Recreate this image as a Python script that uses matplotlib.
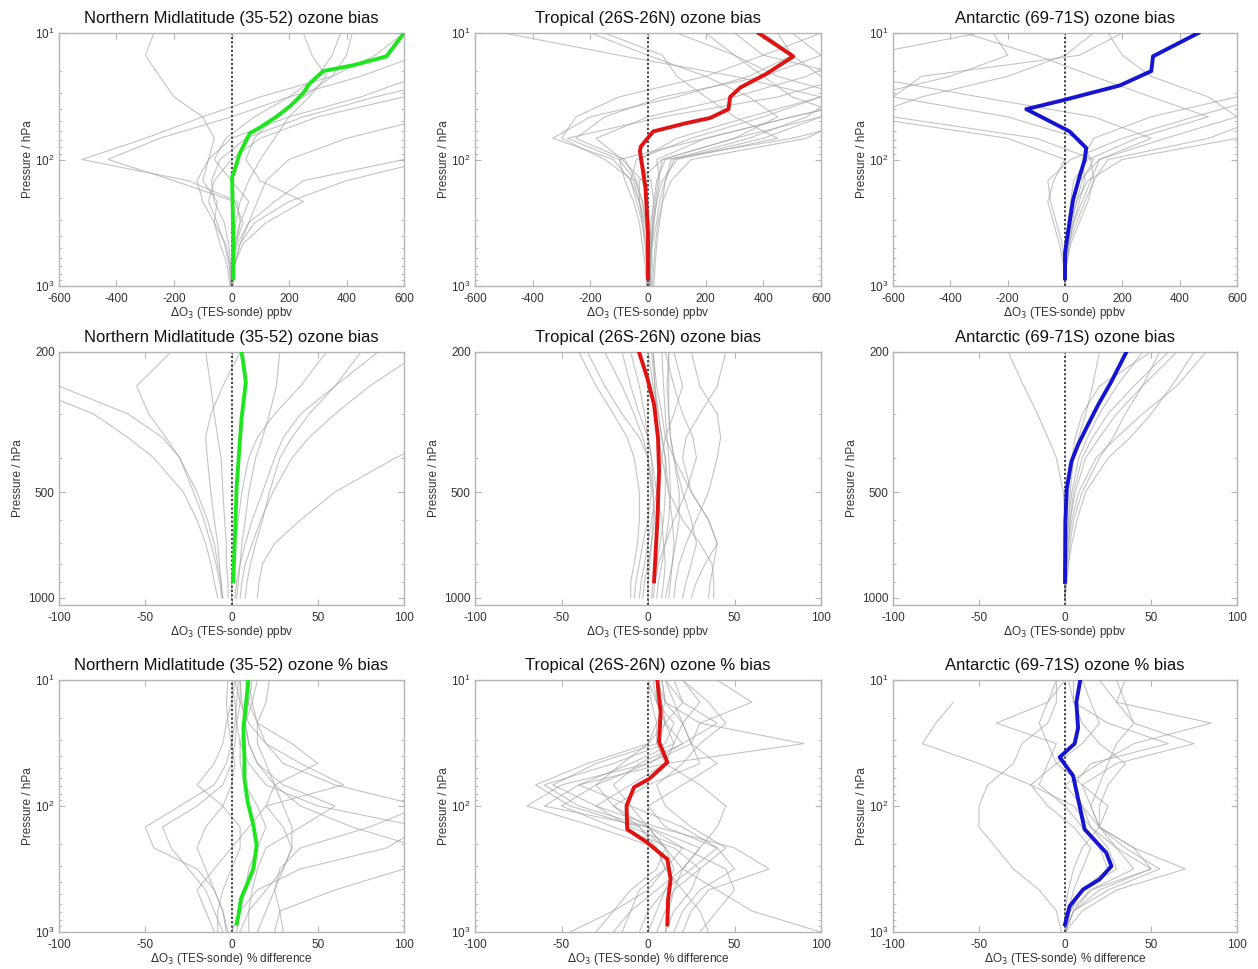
import numpy as np
import matplotlib
matplotlib.use("Agg")
import matplotlib.pyplot as plt
from matplotlib.ticker import FixedLocator, FixedFormatter, LogFormatterMathtext, NullFormatter

plt.rcParams['font.family'] = ['Liberation Sans', 'DejaVu Sans']
plt.rcParams['axes.unicode_minus'] = False

# ---------------- data ----------------
regions = ["Northern Midlatitude (35-52)", "Tropical (26S-26N)", "Antarctic (69-71S)"]
mean_colors = ["#1ee61e", "#e01212", "#1414d2"]

# Pressure levels (hPa) for the individual (grey) profiles
lev_full = [1000, 681, 464, 316, 215, 147, 100, 68, 46, 32, 22, 15, 10]
lev_trop = [1000, 900, 800, 700, 600, 500, 400, 350, 300, 250, 200]

# ---- row 1: ppbv bias, 1000-10 hPa ----
nh_ppb_mean_p = [870, 383, 136, 132, 89, 62, 56, 46, 38, 30, 25, 20, 18, 15.3, 10]
nh_ppb_mean_x = [6, 6, 2, 6, 29, 64, 98, 156, 203, 249, 272, 319, 423, 539, 600]
tr_ppb_mean_p = [870, 383, 164, 86, 79, 60, 51.5, 47, 40, 32, 27, 21, 15.3, 10]
tr_ppb_mean_x = [0, 0, -9, -28, -25, 18, 134, 215, 279, 285, 320, 411, 504, 383]
an_ppb_mean_p = [870, 550, 383, 209, 136, 100, 81, 60, 40, 34, 26, 20, 15.3, 10]
an_ppb_mean_x = [0, 0, 10, 28, 51, 69, 74, 16, -135, -7, 191, 301, 307, 465]

nh_ppb_grey = [
    [0, 2, 10, 30, 20, -150, -520, -300, -100, 100, 350, 500, 600],
    [3, 8, 15, 40, 10, -200, -430, -250, 0, 200, 450, 650, 700],
    [0, 5, 20, 60, 150, 250, 600, 800, 800, 800, 800, 800, 800],
    [5, 10, 30, 80, 200, 400, 700, 800, 800, 800, 800, 800, 800],
    [0, -5, -20, -60, -100, -120, -80, 0, 200, 450, 650, 800, 800],
    [-5, -15, -40, -60, -50, -100, -80, -60, -100, -200, -250, -300, -270],
    [2, 10, 40, 120, 250, 100, 50, 80, 150, 250, 350, 400, 420],
    [0, 5, 15, 30, 60, 0, -60, -20, 80, 200, 300, 350, 380],
    [0, -3, -10, -25, -60, -70, -40, 50, 250, 500, 800, 800, 800],
    [4, 12, 30, 60, 90, 120, 200, 400, 700, 800, 800, 800, 800],
    [1, 4, 8, 15, 30, 60, 100, 150, 200, 270, 330, 280, 250],
    [-2, -8, -25, -50, -80, -60, 0, 100, 300, 600, 800, 800, 800],
]
tr_ppb_grey = [
    [10, 5, 0, -10, -30, -60, -120, -330, -200, 100, 350, 500, 450],
    [5, 10, 5, -5, -20, -40, -80, -250, -150, 50, 400, 600, 700],
    [-5, -10, -20, -30, -50, -80, -100, 200, 500, 800, 800, 800, 800],
    [0, 5, 10, 15, 20, 30, 60, 500, 800, 800, 800, 800, 800],
    [15, 20, 25, 35, 50, 80, 150, 550, 700, 500, 400, 300, 200],
    [0, -5, -10, -20, -40, -60, -40, 150, 400, 600, 300, -100, -500],
    [5, 0, -5, -15, -30, -30, 50, 300, 450, 350, 200, 0, -200],
    [10, 15, 10, 5, 0, -20, -90, -180, 0, 300, 550, 700, 600],
    [-5, 0, 5, 10, 20, 10, -30, 100, 350, 600, 800, 800, 800],
    [0, 5, 15, 30, 40, 60, 90, 400, 600, 700, 450, 300, 100],
    [5, 10, 15, 20, 30, 50, 100, 450, 300, 200, 100, 50, -150],
    [20, 25, 30, 40, 50, 60, 80, 350, 550, 650, 600, 500, 400],
    [0, -5, -10, -20, -30, -50, -150, -300, -250, -100, 200, 400, 600],
    [3, 8, 12, 20, 30, 40, 30, 200, 500, 800, 800, 800, 800],
    [8, 4, 0, -8, -20, -45, -100, -280, 50, 450, 700, 400, 300],
    [2, 6, 10, 18, 25, 35, 50, 300, 600, 800, 700, 600, 500],
]
an_ppb_grey = [
    [0, 5, 20, 50, 80, 100, 150, 500, 700, 800, 800, 800, 800],
    [0, -5, -20, -40, -60, -40, 0, -200, -700, -500, -200, 0, 100],
    [0, 5, 15, 30, 60, 90, 120, 300, 100, -300, -700, -700, -300],
    [0, 2, 10, 25, 40, 80, 200, 600, 800, 800, 800, 800, 800],
    [0, 0, 5, 20, 40, 60, 100, -100, -600, -700, -400, -200, -250],
    [0, 3, 10, 30, 50, 70, 60, 100, 300, 600, 800, 800, 800],
    [0, -3, -10, -30, -50, -60, 20, 200, 450, 700, 800, 800, 800],
    [0, 5, 15, 40, 70, 100, 90, 50, -200, -600, -500, 50, 200],
    [0, 3, 10, 20, 30, 50, 120, 350, 600, 500, 300, 200, 150],
    [0, 0, 2, 10, 20, 30, 80, 250, 500, 300, 100, -100, -350],
]

# ---- row 2: ppbv bias, troposphere 1000-200 hPa ----
nh_trop_mean_p = [896, 667, 480, 385, 310, 244, 214, 200]
nh_trop_mean_x = [1, 2, 3, 4.4, 5.8, 8.3, 6.8, 5.8]
tr_trop_mean_p = [897, 607, 437, 351, 282, 237, 200]
tr_trop_mean_x = [3.5, 5.4, 6.4, 5.8, 3.5, -0.4, -5.2]
an_trop_mean_p = [900, 608, 489, 410, 367, 329, 283, 243, 200]
an_trop_mean_x = [0, 0.2, 1, 3.7, 7.6, 12.4, 19.2, 26.9, 35.7]

nh_trop_grey = [
    [-8, -10, -12, -15, -20, -28, -45, -60, -80, -120, -150],
    [-5, -6, -8, -10, -14, -20, -30, -40, -60, -100, -140],
    [-5, -7, -9, -12, -16, -22, -30, -38, -48, -55, -35],
    [0, 0, 1, 2, 4, 6, 10, 15, 25, 40, 55],
    [5, 6, 8, 12, 17, 24, 35, 45, 60, 80, 110],
    [15, 16, 18, 25, 40, 60, 95, 120, 150, 170, 190],
    [3, 4, 5, 6, 8, 10, 14, 18, 22, 26, 28],
    [-2, -2, -3, -3, -4, -5, -6, -8, -10, -12, -15],
    [8, 9, 11, 14, 18, 22, 28, 35, 45, 60, 75],
    [-6, -6, -7, -8, -10, -12, -14, -15, -12, -5, 5],
    [2, 3, 5, 8, 12, 18, 25, 30, 40, 60, 85],
]
tr_trop_grey = [
    [-10, -10, -8, -6, -5, -5, -8, -12, -20, -30, -40],
    [-8, -7, -5, -3, 0, 2, 0, -3, -8, -15, -25],
    [0, 0, 1, 2, 3, 3, 2, 0, -2, -5, -10],
    [2, 3, 5, 7, 9, 10, 10, 8, 6, 4, 2],
    [5, 6, 8, 10, 12, 13, 12, 11, 10, 9, 8],
    [10, 12, 14, 16, 18, 18, 15, 13, 12, 11, 12],
    [20, 22, 25, 28, 25, 20, 15, 13, 12, 12, 12],
    [25, 28, 33, 40, 35, 25, 20, 22, 30, 40, 45],
    [38, 38, 37, 30, 20, 12, 8, 6, 5, 4, 3],
    [35, 36, 38, 40, 35, 25, 15, 10, 8, 5, 3],
    [-5, -4, -2, 0, 2, 5, 8, 10, 15, 20, 15],
    [15, 16, 18, 22, 28, 35, 40, 42, 40, 30, 25],
    [-3, -2, 0, 2, 4, 3, 0, -5, -15, -25, -35],
    [8, 9, 10, 9, 8, 5, 2, 0, -5, -10, -15],
    [3, 4, 6, 10, 15, 22, 28, 26, 20, 15, 10],
    [12, 13, 14, 15, 14, 12, 10, 8, 6, 3, 0],
]
an_trop_grey = [
    [0, 0, 0, 0, 0, -1, -5, -10, -16, -24, -33],
    [0, 0, 1, 2, 4, 8, 18, 30, 45, 65, 82],
    [0, 1, 2, 4, 7, 12, 25, 38, 50, 62, 75],
    [0, 0, 1, 2, 3, 6, 12, 20, 30, 45, 55],
    [0, 0, 1, 1, 2, 4, 8, 13, 20, 30, 45],
    [0, 0, 0, 1, 2, 3, 5, 8, 12, 16, 20],
    [0, 0, 1, 2, 3, 5, 10, 16, 25, 40, 60],
    [0, 0, 0, 1, 1, 2, 4, 6, 10, 20, 50],
    [0, 1, 2, 3, 5, 10, 20, 28, 35, 45, 65],
]

# ---- row 3: percent bias, 1000-10 hPa ----
nh_pct_mean_p = [859, 738, 544, 426, 314, 205, 142, 93, 61, 42, 24, 18, 10]
nh_pct_mean_x = [3, 4, 5.5, 8.8, 12.7, 14.6, 12.7, 9.4, 7.5, 7.5, 6.9, 7.9, 9.8]
tr_pct_mean_p = [871, 552, 383, 265, 195, 153, 100, 71, 61, 45, 31, 18, 10]
tr_pct_mean_x = [11.2, 11.6, 13.1, 11.2, -0.4, -12, -12.4, -8.1, 0.6, 11.2, 6.4, 7.3, 5.4]
an_pct_mean_p = [871, 624, 460, 383, 300, 235, 153, 100, 57.5, 41, 32, 24, 15, 10]
an_pct_mean_x = [0, 2.7, 10.5, 20, 27, 24, 11.4, 8.5, 4.7, -3.1, 5.6, 7.6, 6.6, 8.9]

nh_pct_grey = [
    [-2, -5, -10, -20, -45, -50, -30, -10, -3, 0, 2, 3, 4],
    [-5, -10, -15, -25, -35, -40, -20, -5, 0, 2, 3, 5, 5],
    [30, 28, 25, 28, 40, 80, 110, 60, 30, 20, 15, 12, 10],
    [25, 28, 60, 100, 110, 70, 40, 25, 15, 10, 8, 10, 12],
    [0, 5, 15, 40, 90, 110, 50, 20, 10, 5, 3, 2, 0],
    [-10, -15, -20, -10, 0, 10, 20, 65, 40, 20, 10, 5, 2],
    [5, 10, 20, 30, 35, 30, 20, 25, 50, 35, 15, 10, 8],
    [15, 20, 25, 30, 35, 35, 30, 25, 20, 15, 15, 20, 22],
    [-8, -8, -5, 0, 5, 5, -5, -20, -10, -5, -3, 0, 2],
    [3, 5, 8, 10, 15, 20, 15, 8, 5, 5, 8, 12, 15],
    [10, 10, 12, 15, 20, 40, 60, 30, 15, 10, 8, 6, 5],
    [-3, -5, -10, -15, -20, -15, -5, 0, 2, 0, -2, -3, -2],
]
tr_pct_grey = [
    [-45, -20, 0, 10, 5, -30, -70, -50, 0, 20, 10, 5, 5],
    [-20, -10, 5, 20, 30, 0, -60, -40, -10, 15, 20, 10, 5],
    [30, 40, 50, 45, 20, -10, -30, -10, 10, 15, 10, 5, 3],
    [100, 60, 40, 20, 10, 0, -20, 0, 30, 25, 20, 15, 10],
    [10, 15, 25, 30, 15, -20, -50, -30, 0, 25, 20, 30, 20],
    [-5, 0, 10, 25, 40, 20, -10, -40, 10, 90, 30, 10, 8],
    [15, 20, 30, 50, 40, 10, 0, 20, 40, 25, 30, 60, 40],
    [5, 10, 15, 20, 30, 40, 45, 30, 10, 5, 5, 10, 8],
    [-15, -10, -5, 10, 20, 0, -40, -60, -20, 10, 15, 5, 0],
    [20, 25, 35, 70, 50, 5, -30, -55, -30, 5, 10, 20, 15],
    [0, 5, 10, 15, 10, 0, -10, -20, -5, 20, 40, 20, 10],
    [35, 30, 20, 10, 5, -5, -20, -30, -15, 0, 5, 2, 0],
    [-30, -20, -10, 5, 10, -5, -45, -65, -35, 0, 10, 8, 5],
    [10, 12, 15, 30, 45, 25, 10, 5, 20, 30, 45, 35, 20],
]
an_pct_grey = [
    [0, 5, 20, 50, 30, 15, 5, -20, -50, -83, -75, -65, np.nan],
    [0, 10, 30, 70, 40, 20, 10, 0, 20, 40, 85, 30, 20],
    [0, 5, 25, 55, 35, 20, 15, 10, 30, 75, 40, 35, 30],
    [0, 3, 15, 40, 30, 20, 20, 25, 35, 20, 10, 5, 5],
    [-2, -5, -15, -30, -40, -50, -50, -45, -30, -25, -10, -5, -5],
    [0, 2, 10, 25, 20, 10, 0, -15, -10, -5, -40, -10, 0],
    [0, 5, 15, 50, 40, 20, 15, 20, 25, 30, 40, 30, 35],
    [1, 2, 5, 10, 15, 5, -10, -20, -5, 10, 20, 15, 10],
    [0, 0, 2, 5, 10, 20, 25, 10, -5, -10, -15, -10, -5],
    [0, 3, 10, 30, 25, 15, 10, 5, 15, 60, 25, 5, 2],
]

titles = [
    [r + " ozone bias" for r in regions],
    [r + " ozone bias" for r in regions],
    [r + " ozone % bias" for r in regions],
]
xlabels = [r"$\Delta$O$_3$ (TES-sonde) ppbv",
           r"$\Delta$O$_3$ (TES-sonde) ppbv",
           r"$\Delta$O$_3$ (TES-sonde) % difference"]
ylabel = "Pressure / hPa"

row_xlim = [(-600, 600), (-100, 100), (-100, 100)]
row_xticks = [[-600, -400, -200, 0, 200, 400, 600],
              [-100, -50, 0, 50, 100],
              [-100, -50, 0, 50, 100]]
row_ylim = [(1000, 10), (1047, 200), (1000, 10)]
row_grey_levels = [lev_full, lev_trop, lev_full]

means = [
    [(nh_ppb_mean_x, nh_ppb_mean_p), (tr_ppb_mean_x, tr_ppb_mean_p), (an_ppb_mean_x, an_ppb_mean_p)],
    [(nh_trop_mean_x, nh_trop_mean_p), (tr_trop_mean_x, tr_trop_mean_p), (an_trop_mean_x, an_trop_mean_p)],
    [(nh_pct_mean_x, nh_pct_mean_p), (tr_pct_mean_x, tr_pct_mean_p), (an_pct_mean_x, an_pct_mean_p)],
]
greys = [
    [nh_ppb_grey, tr_ppb_grey, an_ppb_grey],
    [nh_trop_grey, tr_trop_grey, an_trop_grey],
    [nh_pct_grey, tr_pct_grey, an_pct_grey],
]

# ---------------- figure ----------------
W, H = 1258, 969
fig = plt.figure(figsize=(W / 100, H / 100), dpi=100)

col_left = [59, 475, 893]
col_w = [345, 346, 344]
row_top = [33, 352, 680]
row_h = [253, 253, 252]

frame_col = "#b4b4b4"
text_col = "#333333"

for r in range(3):
    for c in range(3):
        ax = fig.add_axes([col_left[c] / W, 1 - (row_top[r] + row_h[r]) / H,
                           col_w[c] / W, row_h[r] / H])
        levs = row_grey_levels[r]
        for prof in greys[r][c]:
            ax.plot(prof, levs, color="#a4a4a4", lw=0.8, alpha=0.65, zorder=1)
        ax.axvline(0, color="#333333", lw=1.3, ls=(0, (1.2, 1.2)), zorder=2)
        mx, mp = means[r][c]
        ax.plot(mx, mp, color=mean_colors[c], lw=2.8, zorder=3)

        ax.set_yscale("log")
        ax.set_ylim(*row_ylim[r])
        ax.set_xlim(*row_xlim[r])
        ax.set_xticks(row_xticks[r])
        if r == 1:
            ax.yaxis.set_major_locator(FixedLocator([200, 500, 1000]))
            ax.yaxis.set_major_formatter(FixedFormatter(["200", "500", "1000"]))
            ax.yaxis.set_minor_locator(FixedLocator([300, 400, 600, 700, 800, 900]))
            ax.yaxis.set_minor_formatter(NullFormatter())
        else:
            ax.yaxis.set_major_locator(FixedLocator([10, 100, 1000]))
            ax.yaxis.set_major_formatter(LogFormatterMathtext())
            ax.yaxis.set_minor_formatter(NullFormatter())

        for s in ax.spines.values():
            s.set_color(frame_col)
            s.set_linewidth(1.0)
        ax.tick_params(which="both", direction="in", top=True, right=True,
                       color=frame_col, labelcolor=text_col, labelsize=8.5)
        ax.tick_params(axis="x", pad=5)
        ax.tick_params(axis="y", pad=3)
        ax.tick_params(which="major", length=4)
        ax.tick_params(which="minor", length=2)

        ax.set_title(titles[r][c], fontsize=12, color="#111111", pad=7)
        ax.set_xlabel(xlabels[r], fontsize=8.5, color=text_col, labelpad=0)
        ax.set_ylabel(ylabel, fontsize=8.5, color=text_col, labelpad=1 if r != 1 else 3)

fig.savefig("out.png", dpi=100)
